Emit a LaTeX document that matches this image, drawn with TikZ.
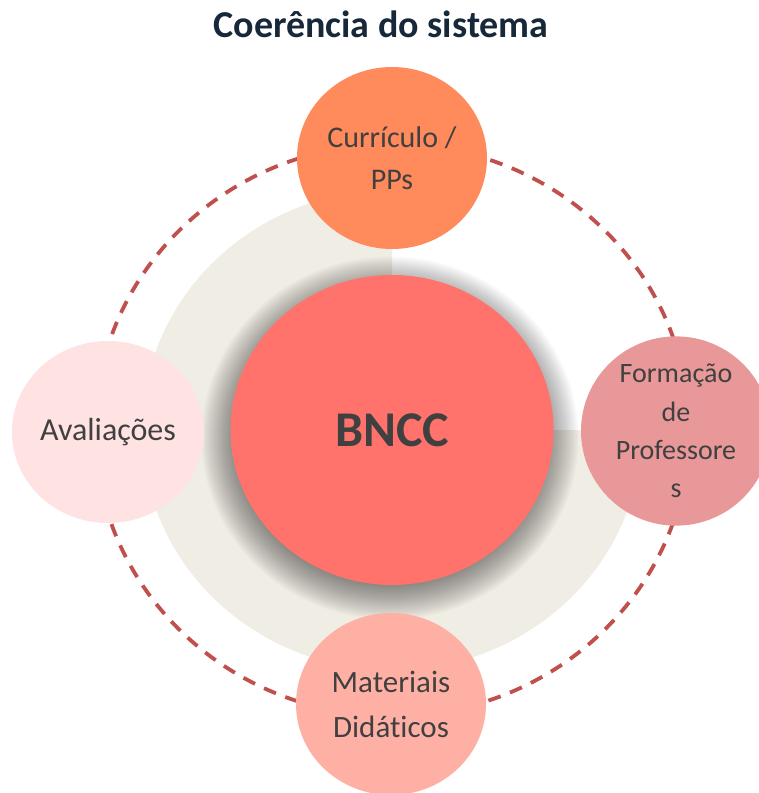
\documentclass[tikz,border=0pt]{standalone}
\usepackage{fontspec}
\setmainfont{Carlito}[Ligatures={NoCommon,NoRequired,NoContextual}]
\usetikzlibrary{shapes.geometric}
\definecolor{titlecol}{HTML}{17283A}
\definecolor{txt}{HTML}{404040}
\definecolor{beige}{HTML}{F0EDE5}
\definecolor{dashred}{HTML}{C0504D}
\definecolor{bnccfill}{HTML}{FF736C}
\definecolor{topfill}{HTML}{FF8A5C}
\definecolor{rightfill}{HTML}{E89898}
\definecolor{leftfill}{HTML}{FFE3E3}
\definecolor{botfill}{HTML}{FFB0A5}
\tikzset{
  sat/.style={ellipse, inner sep=0pt, minimum width=190pt, minimum height=182pt,
    text=txt, align=center},
  ring/.style={draw=dashred, line width=3.8pt, dash pattern=on 13pt off 10pt},
}
\begin{document}
\begin{tikzpicture}[x=1pt,y=-1pt]
\useasboundingbox (0,0) rectangle (759,793);
\clip (0,0) rectangle (759,793);
\fill[white] (0,0) rectangle (759,793);
% title
\node[anchor=base, text=titlecol, font=\fontsize{38}{42}\selectfont\bfseries] (title) at (381,37) {Coerência do sistema};
% beige three-quarter disc
\begin{scope}
  \clip (0,0) rectangle (392,793) (392,430) rectangle (759,793);
  \fill[beige] (392,430) ellipse [x radius=250pt, y radius=240pt];
\end{scope}
% dashed ring
\draw[ring] (392,430) ellipse [x radius=297pt, y radius=286pt];
% shadow of centre
\foreach \i in {0,...,25} {
  \fill[black, opacity=0.024] (390,438) ellipse [x radius={146pt+\i*1.7pt}, y radius={139pt+\i*1.7pt}];
}
% centre
\node[ellipse, inner sep=0pt, minimum width=323pt, minimum height=310pt, fill=bnccfill,
  text=txt, font=\fontsize{50}{54}\selectfont\bfseries] (bncc) at (392,430) {\raisebox{-3pt}{BNCC}};
% satellites
\node[sat, fill=topfill, font=\fontsize{30}{42}\selectfont] (cur) at (392,158) {Currículo /\\PPs};
\node[sat, fill=leftfill, font=\fontsize{32}{42}\selectfont] (ava) at (108,432) {Avaliações};
\node[sat, fill=rightfill, font=\fontsize{28}{38.3}\selectfont] (for) at (676,431) {Formação\\de\\Professore\\s};
\node[sat, fill=botfill, font=\fontsize{31}{45}\selectfont] (mat) at (391,704) {Materiais\\Didáticos};
\end{tikzpicture}
\end{document}
